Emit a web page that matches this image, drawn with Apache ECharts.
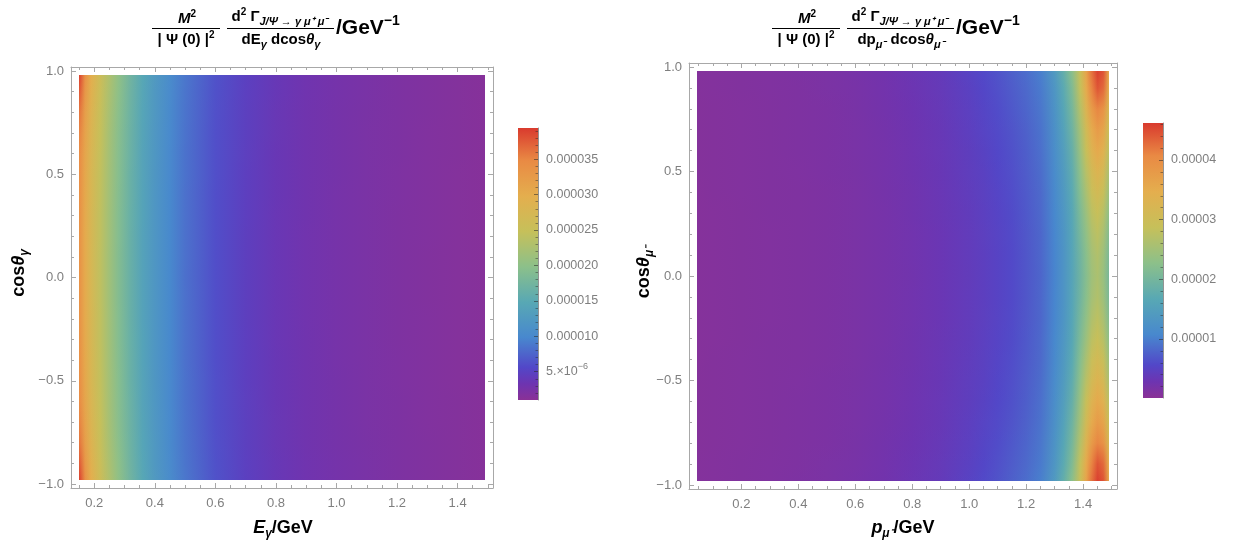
<!DOCTYPE html>
<html><head><meta charset="utf-8">
<script src="https://cdn.jsdelivr.net/npm/echarts@6.0.0/dist/echarts.min.js"></script>
<style>html,body{margin:0;padding:0;background:#fff}#c{width:1238px;height:548px}</style>
</head><body><div id="c"></div>
<script>
// ---------------- data (values in units of 1e-6 GeV^-1) ----------------
const COS_ROWS = [-0.98,-0.9,-0.8,-0.7,-0.6,-0.5,-0.4,-0.3,-0.2,-0.1,0,0.1,0.2,0.3,0.4,0.5,0.6,0.7,0.8,0.9,0.98];

const LEFT_E = [0.15,0.17,0.19,0.22,0.25,0.28,0.32,0.36,0.40,0.45,0.50,0.60,0.70,0.80,0.90,1.00,1.10,1.20,1.30,1.40,1.49];
const LEFT_Z = [
 [39.2,34.0,29.8,25.8,22.8,20.2,17.2,14.6,12.5,10.4,8.7,6.3,4.8,3.8,3.1,2.7,2.35,2.05,1.78,1.55,1.35],
 [37.8,33.0,29.2,25.4,22.5,20.0,17.0,14.5,12.4,10.3,8.6,6.25,4.78,3.78,3.1,2.68,2.33,2.03,1.77,1.54,1.34],
 [36.2,32.0,28.6,25.0,22.2,19.7,16.8,14.3,12.3,10.2,8.5,6.2,4.75,3.75,3.08,2.66,2.32,2.02,1.76,1.53,1.33],
 [35.3,31.4,28.2,24.8,22.0,19.5,16.7,14.2,12.2,10.1,8.45,6.15,4.72,3.73,3.06,2.65,2.3,2.01,1.75,1.52,1.33],
 [34.8,31.0,27.9,24.6,21.9,19.4,16.6,14.1,12.1,10.05,8.4,6.12,4.7,3.71,3.05,2.64,2.29,2.0,1.74,1.52,1.32],
 [34.5,30.8,27.7,24.5,21.8,19.3,16.5,14.05,12.05,10.0,8.37,6.1,4.68,3.7,3.04,2.63,2.28,1.99,1.74,1.51,1.32],
 [34.3,30.6,27.6,24.4,21.7,19.2,16.45,14.0,12.0,9.98,8.35,6.08,4.67,3.69,3.03,2.62,2.28,1.99,1.73,1.51,1.31],
 [34.1,30.5,27.5,24.3,21.65,19.15,16.4,13.97,11.98,9.96,8.33,6.07,4.66,3.68,3.03,2.62,2.27,1.98,1.73,1.51,1.31],
 [34.0,30.4,27.45,24.25,21.6,19.1,16.38,13.95,11.96,9.95,8.32,6.06,4.65,3.68,3.02,2.61,2.27,1.98,1.73,1.5,1.31],
 [33.9,30.35,27.4,24.2,21.58,19.08,16.36,13.94,11.95,9.94,8.31,6.05,4.65,3.67,3.02,2.61,2.27,1.98,1.72,1.5,1.31],
 [33.9,30.3,27.4,24.2,21.55,19.05,16.35,13.93,11.94,9.93,8.3,6.05,4.64,3.67,3.02,2.61,2.26,1.97,1.72,1.5,1.3],
 [33.9,30.35,27.4,24.2,21.58,19.08,16.36,13.94,11.95,9.94,8.31,6.05,4.65,3.67,3.02,2.61,2.27,1.98,1.72,1.5,1.31],
 [34.0,30.4,27.45,24.25,21.6,19.1,16.38,13.95,11.96,9.95,8.32,6.06,4.65,3.68,3.02,2.61,2.27,1.98,1.73,1.5,1.31],
 [34.1,30.5,27.5,24.3,21.65,19.15,16.4,13.97,11.98,9.96,8.33,6.07,4.66,3.68,3.03,2.62,2.27,1.98,1.73,1.51,1.31],
 [34.3,30.6,27.6,24.4,21.7,19.2,16.45,14.0,12.0,9.98,8.35,6.08,4.67,3.69,3.03,2.62,2.28,1.99,1.73,1.51,1.31],
 [34.5,30.8,27.7,24.5,21.8,19.3,16.5,14.05,12.05,10.0,8.37,6.1,4.68,3.7,3.04,2.63,2.28,1.99,1.74,1.51,1.32],
 [34.8,31.0,27.9,24.6,21.9,19.4,16.6,14.1,12.1,10.05,8.4,6.12,4.7,3.71,3.05,2.64,2.29,2.0,1.74,1.52,1.32],
 [35.3,31.4,28.2,24.8,22.0,19.5,16.7,14.2,12.2,10.1,8.45,6.15,4.72,3.73,3.06,2.65,2.3,2.01,1.75,1.52,1.33],
 [36.2,32.0,28.6,25.0,22.2,19.7,16.8,14.3,12.3,10.2,8.5,6.2,4.75,3.75,3.08,2.66,2.32,2.02,1.76,1.53,1.33],
 [37.8,33.0,29.2,25.4,22.5,20.0,17.0,14.5,12.4,10.3,8.6,6.25,4.78,3.78,3.1,2.68,2.33,2.03,1.77,1.54,1.34],
 [39.2,34.0,29.8,25.8,22.8,20.2,17.2,14.6,12.5,10.4,8.7,6.3,4.8,3.8,3.1,2.7,2.35,2.05,1.78,1.55,1.35]
];

const RIGHT_P = [0.045,0.1,0.2,0.3,0.4,0.5,0.6,0.7,0.8,0.9,1.0,1.05,1.1,1.15,1.2,1.25,1.3,1.33,1.36,1.39,1.41,1.43,1.45,1.47,1.49];
const RIGHT_Z = [
 [0.7,0.8,0.95,1.1,1.3,1.55,1.9,2.4,3.1,3.8,5.0,5.8,6.6,7.6,8.6,10.0,14.0,18.0,22.5,29.5,36.5,42.5,45.8,44.5,35.5],
 [0.68,0.78,0.93,1.08,1.27,1.51,1.84,2.32,2.99,3.69,4.81,5.55,6.32,7.26,8.26,9.62,13.34,17.01,21.23,28.75,35.41,41.17,44.32,42.96,34.38],
 [0.66,0.76,0.91,1.06,1.25,1.48,1.79,2.26,2.88,3.58,4.64,5.33,6.06,6.95,7.95,9.28,12.74,16.13,20.09,27.0,32.88,38.08,40.85,39.38,31.75],
 [0.65,0.75,0.9,1.05,1.22,1.45,1.75,2.2,2.79,3.49,4.49,5.14,5.84,6.68,7.68,8.98,12.22,15.35,19.08,25.5,30.7,35.42,37.88,36.3,29.5],
 [0.64,0.74,0.89,1.04,1.2,1.42,1.71,2.14,2.72,3.42,4.36,4.97,5.64,6.45,7.45,8.72,11.76,14.67,18.21,24.3,28.96,33.3,35.5,33.84,27.7],
 [0.63,0.73,0.88,1.03,1.19,1.4,1.68,2.1,2.65,3.35,4.25,4.83,5.48,6.25,7.25,8.5,11.38,14.1,17.48,23.1,27.22,31.17,33.13,31.38,25.9],
 [0.62,0.72,0.87,1.02,1.17,1.38,1.65,2.06,2.6,3.3,4.16,4.71,5.34,6.09,7.09,8.32,11.06,13.63,16.87,22.1,25.77,29.4,31.15,29.33,24.4],
 [0.61,0.71,0.86,1.01,1.16,1.37,1.63,2.04,2.55,3.25,4.09,4.62,5.24,5.96,6.96,8.18,10.82,13.27,16.4,21.1,24.32,27.63,29.17,27.28,22.9],
 [0.6,0.7,0.85,1.0,1.16,1.36,1.61,2.02,2.52,3.22,4.04,4.55,5.16,5.87,6.87,8.08,10.64,13.01,16.07,20.35,23.23,26.3,27.68,25.74,21.78],
 [0.6,0.7,0.85,1.0,1.15,1.35,1.6,2.0,2.51,3.21,4.01,4.51,5.12,5.82,6.82,8.02,10.54,12.85,15.87,19.75,22.36,25.24,26.5,24.51,20.88],
 [0.6,0.7,0.85,1.0,1.15,1.35,1.6,2.0,2.5,3.2,4.0,4.5,5.1,5.8,6.8,8.0,10.5,12.8,15.8,19.5,22.0,24.8,26.0,24.0,20.5],
 [0.6,0.7,0.85,1.0,1.15,1.35,1.6,2.0,2.51,3.21,4.01,4.51,5.12,5.82,6.82,8.02,10.54,12.85,15.87,19.75,22.36,25.24,26.5,24.51,20.88],
 [0.6,0.7,0.85,1.0,1.16,1.36,1.61,2.02,2.52,3.22,4.04,4.55,5.16,5.87,6.87,8.08,10.64,13.01,16.07,20.35,23.23,26.3,27.68,25.74,21.78],
 [0.61,0.71,0.86,1.01,1.16,1.37,1.63,2.04,2.55,3.25,4.09,4.62,5.24,5.96,6.96,8.18,10.82,13.27,16.4,21.1,24.32,27.63,29.17,27.28,22.9],
 [0.62,0.72,0.87,1.02,1.17,1.38,1.65,2.06,2.6,3.3,4.16,4.71,5.34,6.09,7.09,8.32,11.06,13.63,16.87,22.1,25.77,29.4,31.15,29.33,24.4],
 [0.63,0.73,0.88,1.03,1.19,1.4,1.68,2.1,2.65,3.35,4.25,4.83,5.48,6.25,7.25,8.5,11.38,14.1,17.48,23.1,27.22,31.17,33.13,31.38,25.9],
 [0.64,0.74,0.89,1.04,1.2,1.42,1.71,2.14,2.72,3.42,4.36,4.97,5.64,6.45,7.45,8.72,11.76,14.67,18.21,24.3,28.96,33.3,35.5,33.84,27.7],
 [0.65,0.75,0.9,1.05,1.22,1.45,1.75,2.2,2.79,3.49,4.49,5.14,5.84,6.68,7.68,8.98,12.22,15.35,19.08,25.5,30.7,35.42,37.88,36.3,29.5],
 [0.66,0.76,0.91,1.06,1.25,1.48,1.79,2.26,2.88,3.58,4.64,5.33,6.06,6.95,7.95,9.28,12.74,16.13,20.09,27.0,32.88,38.08,40.85,39.38,31.75],
 [0.68,0.78,0.93,1.08,1.27,1.51,1.84,2.32,2.99,3.69,4.81,5.55,6.32,7.26,8.26,9.62,13.34,17.01,21.23,28.75,35.41,41.17,44.32,42.96,34.38],
 [0.7,0.8,0.95,1.1,1.3,1.55,1.9,2.4,3.1,3.8,5.0,5.8,6.6,7.6,8.6,10.0,14.0,18.0,22.5,29.5,36.5,42.5,45.8,44.5,35.5]
];

// colour-scale ranges (1e-6 units) read from the legends
const LEFT_RANGE = [1.0, 39.4];
const RIGHT_RANGE = [0.1, 46.2];

// axis ranges & ticks
const LEFT_X_RANGE = [0.123, 1.517];
const RIGHT_X_RANGE = [0.016, 1.519];
const Y_RANGE = [-1.0192, 1.0192];
const X_MAJOR = [0.2,0.4,0.6,0.8,1.0,1.2,1.4];
const LEFT_X_MINOR = [0.15,0.25,0.3,0.35,0.45,0.5,0.55,0.65,0.7,0.75,0.85,0.9,0.95,1.05,1.1,1.15,1.25,1.3,1.35,1.45,1.5];
const RIGHT_X_MINOR = [0.05,0.1,0.15,0.25,0.3,0.35,0.45,0.5,0.55,0.65,0.7,0.75,0.85,0.9,0.95,1.05,1.1,1.15,1.25,1.3,1.35,1.45,1.5];
const Y_MAJOR = [-1.0,-0.5,0,0.5,1.0];
const Y_MINOR = [-0.9,-0.8,-0.7,-0.6,-0.4,-0.3,-0.2,-0.1,0.1,0.2,0.3,0.4,0.6,0.7,0.8,0.9];

const LEFT_BAR_TICKS = [5,10,15,20,25,30,35];
const LEFT_BAR_LABELS = ['{a|5.×10}{s|−6}','{a|0.000010}','{a|0.000015}','{a|0.000020}','{a|0.000025}','{a|0.000030}','{a|0.000035}'];
const LEFT_BAR_MINOR = [2,3,4,6,7,8,9,11,12,13,14,16,17,18,19,21,22,23,24,26,27,28,29,31,32,33,34,36,37,38,39];
const RIGHT_BAR_TICKS = [10,20,30,40];
const RIGHT_BAR_LABELS = ['{a|0.00001}','{a|0.00002}','{a|0.00003}','{a|0.00004}'];
const RIGHT_BAR_MINOR = [2,4,6,8,12,14,16,18,22,24,26,28,32,34,36,38,42,44,46];

// Mathematica-like "Rainbow" palette
const PALETTE = [
 [0.00,'#8a3196'],[0.06,'#6d34b1'],[0.12,'#5247c8'],[0.23,'#4888ce'],[0.36,'#58a8b4'],
 [0.49,'#8cc08a'],[0.62,'#c6c05a'],[0.75,'#e4ae4e'],[0.88,'#e98a44'],[1.00,'#d93a2e']];

// ---------------- helpers ----------------
const FONT = '"Liberation Sans", Arial, Helvetica, sans-serif';
const FRAME = '#a8a8a8';
const LABEL = '#7f7f7f';
function hexRgb(h){return [parseInt(h.slice(1,3),16),parseInt(h.slice(3,5),16),parseInt(h.slice(5,7),16)];}
function colorAt(t){
  t = Math.max(0, Math.min(1, t));
  for (let i = 1; i < PALETTE.length; i++) {
    if (t <= PALETTE[i][0]) {
      const a = PALETTE[i-1], b = PALETTE[i];
      const f = (t - a[0]) / (b[0] - a[0]);
      const ca = hexRgb(a[1]), cb = hexRgb(b[1]);
      return 'rgb(' + ca.map((c,k)=>Math.round(c + (cb[k]-c)*f)).join(',') + ')';
    }
  }
  return PALETTE[PALETTE.length-1][1];
}
const fmtFrame = v => (Math.abs(v) < 1e-9 ? 0 : v).toFixed(1).replace('-', '−');

function frameX(grid, range, minor) {
  const base = {type:'value', gridIndex:grid, min:range[0], max:range[1], splitLine:{show:false}, z:5};
  const line = {show:true, onZero:false, lineStyle:{color:FRAME, width:1}};
  const noline = {show:false, onZero:false};
  return [
    Object.assign({}, base, {position:'bottom', axisLine:line,
      axisTick:{show:true, inside:true, length:5, customValues:X_MAJOR, lineStyle:{color:FRAME}},
      axisLabel:{show:true, customValues:X_MAJOR, formatter:fmtFrame, color:LABEL, fontSize:13, fontFamily:FONT, margin:9}}),
    Object.assign({}, base, {position:'bottom', axisLine:noline,
      axisTick:{show:true, inside:true, length:3, customValues:minor, lineStyle:{color:FRAME}},
      axisLabel:{show:false}}),
    Object.assign({}, base, {position:'top', axisLine:line,
      axisTick:{show:true, inside:true, length:5, customValues:X_MAJOR, lineStyle:{color:FRAME}},
      axisLabel:{show:false}}),
    Object.assign({}, base, {position:'top', axisLine:noline,
      axisTick:{show:true, inside:true, length:3, customValues:minor, lineStyle:{color:FRAME}},
      axisLabel:{show:false}})
  ];
}
function frameY(grid) {
  const base = {type:'value', gridIndex:grid, min:Y_RANGE[0], max:Y_RANGE[1], splitLine:{show:false}, z:5};
  const line = {show:true, onZero:false, lineStyle:{color:FRAME, width:1}};
  const noline = {show:false, onZero:false};
  return [
    Object.assign({}, base, {position:'left', axisLine:line,
      axisTick:{show:true, inside:true, length:5, customValues:Y_MAJOR, lineStyle:{color:FRAME}},
      axisLabel:{show:true, customValues:Y_MAJOR, formatter:fmtFrame, color:LABEL, fontSize:13, fontFamily:FONT, margin:7}}),
    Object.assign({}, base, {position:'left', axisLine:noline,
      axisTick:{show:true, inside:true, length:3, customValues:Y_MINOR, lineStyle:{color:FRAME}},
      axisLabel:{show:false}}),
    Object.assign({}, base, {position:'right', axisLine:line,
      axisTick:{show:true, inside:true, length:5, customValues:Y_MAJOR, lineStyle:{color:FRAME}},
      axisLabel:{show:false}}),
    Object.assign({}, base, {position:'right', axisLine:noline,
      axisTick:{show:true, inside:true, length:3, customValues:Y_MINOR, lineStyle:{color:FRAME}},
      axisLabel:{show:false}})
  ];
}
function barY(grid, range, ticks, labels, minor) {
  const base = {type:'value', gridIndex:grid, min:range[0], max:range[1], position:'right', splitLine:{show:false}, z:5};
  return [
    Object.assign({}, base, {
      axisLine:{show:true, onZero:false, lineStyle:{color:'rgba(40,40,40,0.5)', width:1}},
      axisTick:{show:true, inside:true, length:4, customValues:ticks, lineStyle:{color:'rgba(40,40,40,0.55)'}},
      axisLabel:{show:true, customValues:ticks, margin:8,
        formatter: v => { const i = ticks.findIndex(t => Math.abs(t - v) < 1e-6); return i >= 0 ? labels[i] : ''; },
        rich:{a:{fontSize:12.5, color:LABEL, fontFamily:FONT, lineHeight:20},
              s:{fontSize:9, color:LABEL, fontFamily:FONT, verticalAlign:'top'}}}}),
    Object.assign({}, base, {
      axisLine:{show:false, onZero:false},
      axisTick:{show:true, inside:true, length:2.5, customValues:minor, lineStyle:{color:'rgba(40,40,40,0.45)'}},
      axisLabel:{show:false}})
  ];
}
// each item spans two neighbouring read rows; the lower row's colours are the base and the
// upper row's colours are laid over it, one pixel line at a time, with growing opacity.
function heatSeries(axisIdx, xs, ys, z, range) {
  const data = [];
  for (let j = 0; j < ys.length - 1; j++) data.push([xs[0], ys[j], xs[xs.length-1], ys[j+1], j]);
  const fillOf = row => {
    const x0 = xs[0], x1 = xs[xs.length-1];
    return {type:'linear', x:0, y:0, x2:1, y2:0,
      colorStops: xs.map((x, i) => ({offset:(x - x0)/(x1 - x0), color:colorAt((row[i]-range[0])/(range[1]-range[0]))}))};
  };
  return {
    type:'custom', coordinateSystem:'cartesian2d', xAxisIndex:axisIdx, yAxisIndex:axisIdx, silent:true, z:1,
    data, encode:{x:[0,2], y:[1,3]},
    renderItem: (params, api) => {
      const pTL = api.coord([api.value(0), api.value(3)]);
      const pBR = api.coord([api.value(2), api.value(1)]);
      const j = api.value(4);
      const L = Math.round(pTL[0]), W = Math.round(pBR[0]) - L;
      const T = Math.round(pTL[1]), B = Math.round(pBR[1]);
      const lowFill = fillOf(z[j]), highFill = fillOf(z[j+1]);
      const children = [{type:'rect', shape:{x:L, y:T, width:W, height:B - T}, style:{fill:lowFill}}];
      const H = B - T;
      for (let r = T; r < B; r++) {
        const a = (B - (r + 0.5)) / H;
        children.push({type:'rect', shape:{x:L, y:r, width:W, height:1}, style:{fill:highFill, opacity:a}});
      }
      return {type:'group', children};
    }
  };
}
function barSeries(xIdx, yIdx, range) {
  return {
    type:'custom', coordinateSystem:'cartesian2d', xAxisIndex:xIdx, yAxisIndex:yIdx, silent:true, z:1,
    data:[[0, range[0], 1, range[1]]], encode:{x:[0,2], y:[1,3]},
    renderItem: (params, api) => {
      const pTL = api.coord([api.value(0), api.value(3)]);
      const pBR = api.coord([api.value(2), api.value(1)]);
      return {type:'rect', shape:{x:pTL[0], y:pTL[1], width:pBR[0]-pTL[0], height:pBR[1]-pTL[1]},
        style:{fill:{type:'linear', x:0, y:1, x2:0, y2:0, colorStops:PALETTE.map(s=>({offset:s[0], color:s[1]}))}}};
    }
  };
}

// ---------------- rich text for titles / axis names ----------------
const R = {
  b:{fontSize:15, fontWeight:'bold', fontFamily:FONT, color:'#000', lineHeight:20},
  bi:{fontSize:15, fontWeight:'bold', fontStyle:'italic', fontFamily:FONT, color:'#000', lineHeight:20},
  sup:{fontSize:10, fontWeight:'bold', fontFamily:FONT, color:'#000', verticalAlign:'top'},
  sub:{fontSize:11, fontWeight:'bold', fontStyle:'italic', fontFamily:FONT, color:'#000', verticalAlign:'bottom'},
  g:{fontSize:21, fontWeight:'bold', fontFamily:FONT, color:'#000', lineHeight:28},
  gs:{fontSize:14, fontWeight:'bold', fontFamily:FONT, color:'#000', verticalAlign:'top'},
  n:{fontSize:18, fontWeight:'bold', fontFamily:FONT, color:'#000', lineHeight:24},
  ni:{fontSize:18, fontWeight:'bold', fontStyle:'italic', fontFamily:FONT, color:'#000', lineHeight:24},
  ns:{fontSize:12, fontWeight:'bold', fontStyle:'italic', fontFamily:FONT, color:'#000', verticalAlign:'bottom'}
};
function txt(text, x, y, align, rot) {
  return {type:'text', x, y, rotation:rot || 0, z:10, silent:true,
    style:{text, rich:R, x:0, y:0, align:align || 'center', verticalAlign:'middle',
      textAlign:align || 'center', textVerticalAlign:'middle', font:'bold 15px ' + FONT}};
}
function bar(x1, x2, y) {
  return {type:'line', z:10, silent:true, shape:{x1, y1:y, x2, y2:y}, style:{stroke:'#000', lineWidth:1.2}};
}
function title(dx, denom) {
  return [
    txt('{bi|M}{sup|2}', 187 + dx, 19),
    bar(152 + dx, 220 + dx, 28.5),
    txt('{b|| Ψ (0) |}{sup|2}', 186 + dx, 40),
    txt('{b|d}{sup|2}{b| Γ}{sub|J/Ψ → γ μ⁺ μ⁻}', 280 + dx, 17),
    bar(227 + dx, 334 + dx, 28.5),
    txt(denom, 281 + dx, 40),
    txt('{g|/GeV}{gs|−1}', 336 + dx, 28, 'left')
  ];
}

const graphic = [].concat(
  title(0, '{b|dE}{sub|γ}{b| dcos}{bi|θ}{sub|γ}'),
  title(620, '{b|dp}{sub|μ⁻}{b| dcos}{bi|θ}{sub|μ⁻}'),
  [
    txt('{ni|E}{ns|γ}{n|/GeV}', 283, 528),
    txt('{n|cos}{ni|θ}{ns|γ}', 19, 273, 'center', Math.PI/2),
    txt('{ni|p}{ns|μ⁻}{n|/GeV}', 903, 528),
    txt('{n|cos}{ni|θ}{ns|μ⁻}', 644, 272, 'center', Math.PI/2)
  ]
);

const option = {
  backgroundColor:'#fff',
  animation:false,
  grid:[
    {left:71, top:67, width:422, height:421},
    {left:689, top:63, width:428, height:426},
    {left:518, top:128, width:20, height:272},
    {left:1143, top:123, width:20, height:275}
  ],
  xAxis:[].concat(
    frameX(0, LEFT_X_RANGE, LEFT_X_MINOR),
    frameX(1, RIGHT_X_RANGE, RIGHT_X_MINOR),
    [{type:'value', gridIndex:2, min:0, max:1, show:false},
     {type:'value', gridIndex:3, min:0, max:1, show:false}]
  ),
  yAxis:[].concat(
    frameY(0), frameY(1),
    barY(2, LEFT_RANGE, LEFT_BAR_TICKS, LEFT_BAR_LABELS, LEFT_BAR_MINOR),
    barY(3, RIGHT_RANGE, RIGHT_BAR_TICKS, RIGHT_BAR_LABELS, RIGHT_BAR_MINOR)
  ),
  series:[
    heatSeries(0, LEFT_E, COS_ROWS, LEFT_Z, LEFT_RANGE),
    heatSeries(4, RIGHT_P, COS_ROWS, RIGHT_Z, RIGHT_RANGE),
    barSeries(8, 8, LEFT_RANGE),
    barSeries(9, 10, RIGHT_RANGE)
  ],
  graphic
};
const chart = echarts.init(document.getElementById('c'), null, {renderer:'canvas'});
chart.setOption(option);
</script>
</body></html>
